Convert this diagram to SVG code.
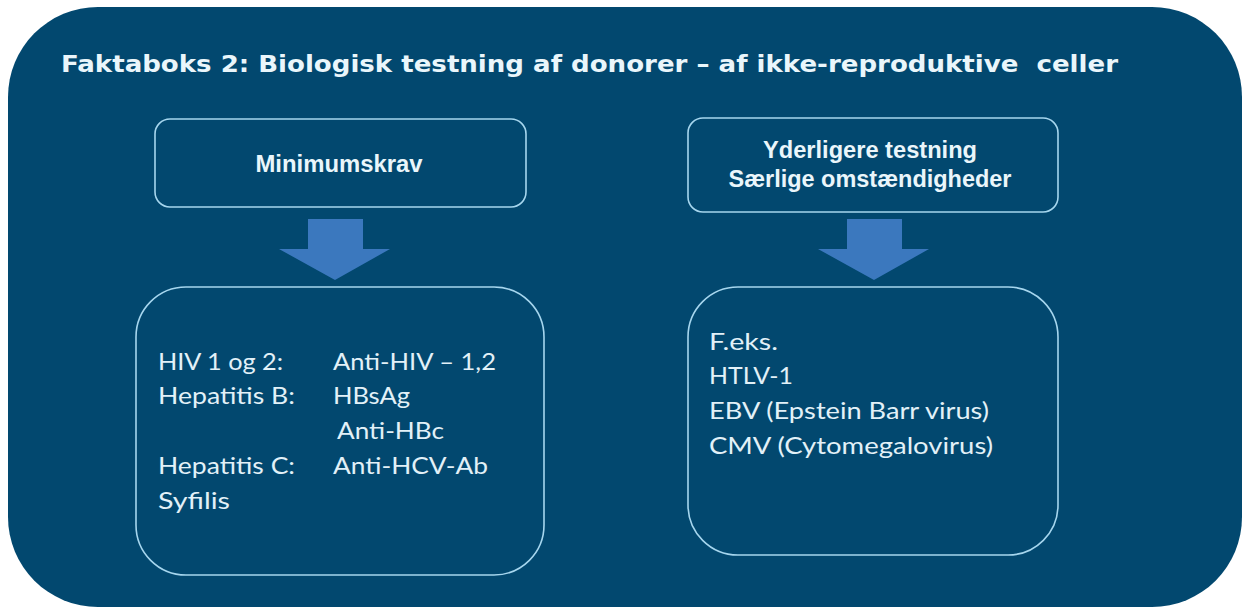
<svg xmlns="http://www.w3.org/2000/svg" width="1248" height="608" viewBox="0 0 1248 608">
  <style>
    .box { fill: none; stroke: #a6d6ee; stroke-width: 1.6; }
    .arrow { fill: #3b78be; }
    .title { font-family: "DejaVu Sans", Verdana, sans-serif; font-weight: bold; font-size: 23px; fill: #eaf6fb; }
    .head { font-family: "Liberation Sans", Arial, sans-serif; font-weight: bold; font-size: 23px; fill: #eaf6fb; text-anchor: middle; }
    .body { font-family: Lato, "Open Sans", sans-serif; font-size: 24px; fill: #e2f1f8; }
  </style>
  <rect x="0" y="0" width="1248" height="608" fill="#ffffff"/>
  <g id="panel">
    <rect x="8" y="7" width="1234" height="600" rx="90" ry="90" fill="#02486f"/>
    <text class="title" x="61" y="72" textLength="1057" lengthAdjust="spacingAndGlyphs" xml:space="preserve">Faktaboks 2: Biologisk testning af donorer – af ikke-reproduktive  celler</text>
  </g>
  <g id="minimumskrav">
    <rect class="box" x="155" y="119" width="371" height="88" rx="15" ry="15"/>
    <text class="head" x="339" y="172" textLength="167" lengthAdjust="spacingAndGlyphs">Minimumskrav</text>
  </g>
  <g id="yderligere">
    <rect class="box" x="688" y="118" width="370" height="94" rx="15" ry="15"/>
    <text class="head" x="870" y="158" textLength="214" lengthAdjust="spacingAndGlyphs">Yderligere testning</text>
    <text class="head" x="870" y="187" textLength="283" lengthAdjust="spacingAndGlyphs">Særlige omstændigheder</text>
  </g>
  <g id="connectors">
    <polygon class="arrow" points="308,219 363,219 363,249 390,249 335,280 279,249 308,249"/>
    <polygon class="arrow" points="847,219 902,219 902,249 929,249 874,280 818,249 847,249"/>
  </g>
  <g id="minimum-list">
    <rect class="box" x="136" y="287" width="408" height="288" rx="50" ry="50"/>
    <text class="body" x="158" y="370" textLength="125" lengthAdjust="spacingAndGlyphs">HIV 1 og 2:</text>
    <text class="body" x="333" y="370" textLength="163" lengthAdjust="spacingAndGlyphs">Anti-HIV – 1,2</text>
    <text class="body" x="158" y="404" textLength="137" lengthAdjust="spacingAndGlyphs">Hepatitis B:</text>
    <text class="body" x="333" y="404" textLength="77" lengthAdjust="spacingAndGlyphs">HBsAg</text>
    <text class="body" x="337" y="439" textLength="107" lengthAdjust="spacingAndGlyphs">Anti-HBc</text>
    <text class="body" x="158" y="474" textLength="137" lengthAdjust="spacingAndGlyphs">Hepatitis C:</text>
    <text class="body" x="333" y="474" textLength="155" lengthAdjust="spacingAndGlyphs">Anti-HCV-Ab</text>
    <text class="body" x="158" y="509" textLength="72" lengthAdjust="spacingAndGlyphs">Syfilis</text>
  </g>
  <g id="example-list">
    <rect class="box" x="688" y="287" width="370" height="268" rx="50" ry="50"/>
    <text class="body" x="709" y="350" textLength="69" lengthAdjust="spacingAndGlyphs">F.eks.</text>
    <text class="body" x="709" y="384" textLength="84" lengthAdjust="spacingAndGlyphs">HTLV-1</text>
    <text class="body" x="709" y="419" textLength="280" lengthAdjust="spacingAndGlyphs">EBV (Epstein Barr virus)</text>
    <text class="body" x="709" y="454" textLength="284" lengthAdjust="spacingAndGlyphs">CMV (Cytomegalovirus)</text>
  </g>
</svg>
